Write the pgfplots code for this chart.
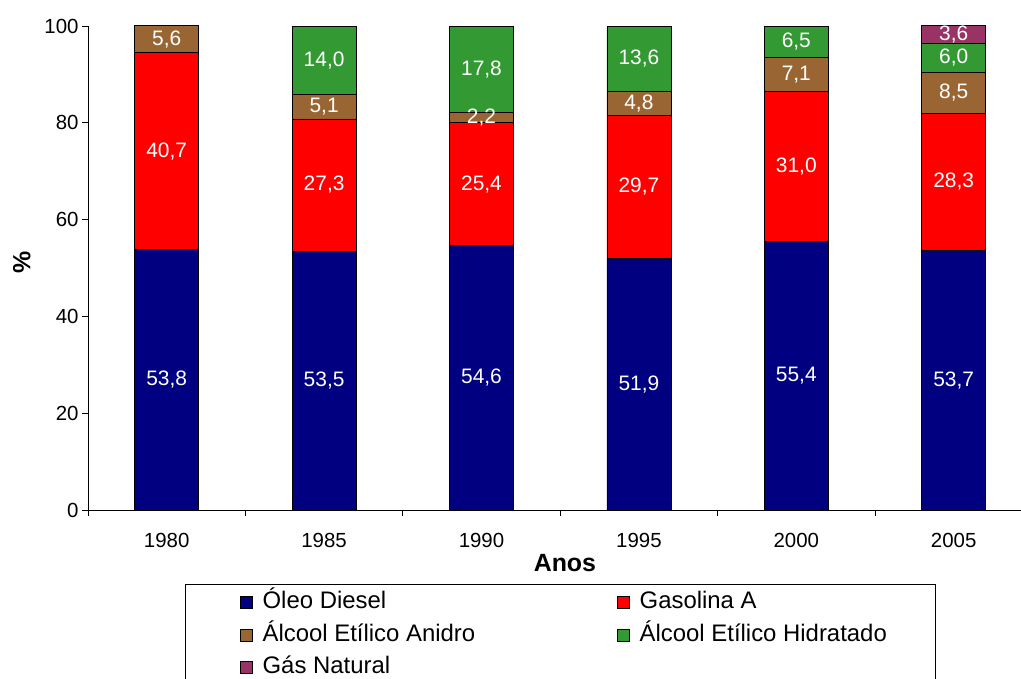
\documentclass[border=0pt]{standalone}
\usepackage{pgfplots}
\pgfplotsset{compat=1.18}
\usepackage{fontspec}
\setmainfont{Liberation Sans}

\definecolor{diesel}{RGB}{0,0,128}
\definecolor{gasolina}{RGB}{255,0,0}
\definecolor{anidro}{RGB}{153,102,51}
\definecolor{hidratado}{RGB}{51,153,51}
\definecolor{gasnat}{RGB}{153,51,102}

\begin{document}
\begin{tikzpicture}
\useasboundingbox (0,0) rectangle (1021bp,-679bp);
\begin{axis}[
  at={(88bp,-510bp)}, anchor=south west,
  scale only axis, width=944.4bp, height=484bp,
  ybar stacked, bar width=64bp,
  xmin=-0.5, xmax=5.5, ymin=0, ymax=100,
  clip=false,
  axis x line*=bottom, axis y line*=left,
  axis line style={-, black, line width=0.8bp},
  xtick={0,...,5},
  xticklabels={1980,1985,1990,1995,2000,2005},
  major x tick style={draw=none},
  minor xtick={-0.5,0.5,...,5.5},
  ytick={0,20,...,100},
  tick align=outside, major tick length=6bp, minor tick length=6bp,
  tick style={black, line width=0.8bp},
  tick label style={font=\fontsize{20.5}{24}\selectfont},
  /pgf/number format/assume math mode=true,
  xticklabel style={yshift=-14bp},
  xlabel={Anos}, ylabel={\%},
  xlabel style={font=\fontsize{25}{29}\selectfont\bfseries,
    at={(axis description cs:0.505,-0.1095)}, anchor=center},
  ylabel style={font=\fontsize{25}{29}\selectfont\bfseries,
    at={(axis description cs:-0.07,0.512)}, anchor=center},
  every axis plot/.append style={draw=black, line width=0.8bp},
  point meta=rawy,
  nodes near coords={\pgfmathprintnumber[fixed,fixed zerofill,precision=1,use comma,assume math mode=true]{\pgfplotspointmeta}},
  every node near coord/.append style={font=\fontsize{21}{24}\selectfont, text=white, anchor=center},
  coordinate style/.condition={meta<0.05}{text opacity=0},
  legend columns=2,
  legend cell align=left,
  legend style={draw=none, fill=none, at={(axis description cs:0.161,-0.168)}, anchor=north west,
    font=\fontsize{24}{28}\selectfont, inner sep=0pt, row sep=10.5bp,
    nodes={inner sep=0pt, text height=17bp, text depth=5bp},
    /tikz/every even column/.append style={column sep=142bp}},
  legend image code/.code={\draw[#1, draw=black, line width=0.8bp] (0bp,-6bp) rectangle (12bp,6bp);
    \path[draw=none, fill=none] (12bp,0bp) -- (22bp,0bp);},
]
% Óleo Diesel
\addplot[fill=diesel] coordinates {(0,53.8) (1,53.5) (2,54.6) (3,51.9) (4,55.4) (5,53.7)};
% Gasolina A
\addplot[fill=gasolina] coordinates {(0,40.7) (1,27.3) (2,25.4) (3,29.7) (4,31.0) (5,28.3)};
% Álcool Etílico Anidro
\addplot[fill=anidro] coordinates {(0,5.6) (1,5.1) (2,2.2) (3,4.8) (4,7.1) (5,8.5)};
% Álcool Etílico Hidratado
\addplot[fill=hidratado] coordinates {(0,0) (1,14.0) (2,17.8) (3,13.6) (4,6.5) (5,6.0)};
% Gás Natural
\addplot[fill=gasnat] coordinates {(0,0) (1,0) (2,0) (3,0) (4,0) (5,3.6)};
\legend{Óleo Diesel, Gasolina A, Álcool Etílico Anidro, Álcool Etílico Hidratado, Gás Natural}
\end{axis}
\draw[black, line width=0.8bp] (185bp,-584bp) rectangle (935bp,-700bp);
\end{tikzpicture}
\end{document}
